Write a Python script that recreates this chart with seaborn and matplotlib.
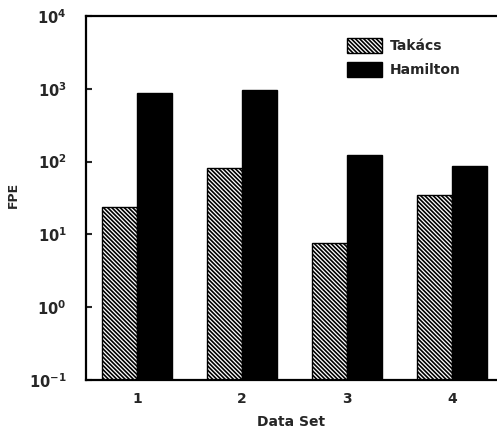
import matplotlib
matplotlib.use("Agg")
import matplotlib.pyplot as plt
import seaborn as sns
import pandas as pd
from matplotlib.patches import Patch

data_sets = ["1", "2", "3", "4"]
takacs = [24, 82, 7.7, 35]
hamilton = [875, 963, 123, 87]
methods = ["Takács", "Hamilton"]
ytick_values = [1e-1, 1e0, 1e1, 1e2, 1e3, 1e4]
ytick_labels = [r"$\mathbf{10^{-1}}$", r"$\mathbf{10^{0}}$", r"$\mathbf{10^{1}}$",
                r"$\mathbf{10^{2}}$", r"$\mathbf{10^{3}}$", r"$\mathbf{10^{4}}$"]

df = pd.DataFrame({
    "Data Set": data_sets * 2,
    "FPE": takacs + hamilton,
    "Method": [methods[0]] * len(data_sets) + [methods[1]] * len(data_sets),
})

sns.set_style("white")
plt.rcParams["font.family"] = ["DejaVu Sans"]
plt.rcParams["font.weight"] = "bold"
plt.rcParams["mathtext.fontset"] = "dejavusans"
plt.rcParams["hatch.linewidth"] = 1.2
plt.rcParams["hatch.color"] = "black"

HATCH = "\\" * 8

fig = plt.figure(figsize=(4.97, 4.32), dpi=100)
ax = fig.add_axes([0.173, 0.1204, 0.827, 0.8426])

sns.barplot(data=df, x="Data Set", y="FPE", hue="Method", order=data_sets,
            hue_order=methods, palette={"Takács": "white", "Hamilton": "black"},
            width=0.667, edgecolor="black", linewidth=1.0, saturation=1,
            legend=False, ax=ax)

for bar in ax.containers[0]:
    bar.set_hatch(HATCH)

ax.set_yscale("log")
ax.set_ylim(1e-1, 1e4)
ax.set_xlim(-0.486, 3.43)
ax.set_yticks(ytick_values)
ax.set_yticklabels(ytick_labels, fontsize=10.5)
ax.minorticks_off()
ax.tick_params(axis="y", direction="in", length=4, width=1.5, pad=14, left=True)
ax.tick_params(axis="x", length=0, pad=9, labelsize=10)
for lbl in ax.get_xticklabels():
    lbl.set_fontweight("bold")

for side in ["left", "top", "bottom"]:
    ax.spines[side].set_linewidth(1.6)
    ax.spines[side].set_color("black")
ax.spines["right"].set_visible(False)

ax.set_xlabel("Data Set", fontsize=10, fontweight="bold", labelpad=6)
ax.set_ylabel("FPE", fontsize=9, fontweight="bold")
ax.yaxis.set_label_coords(-0.16, 0.508)

handles = [
    Patch(facecolor="white", edgecolor="black", hatch=HATCH, label=methods[0]),
    Patch(facecolor="black", edgecolor="black", label=methods[1]),
]
fig.legend(handles=handles, loc="upper left", bbox_to_anchor=(0.684, 0.928),
           bbox_transform=fig.transFigure, frameon=False, borderpad=0,
           handlelength=2.5, handleheight=1.25, handletextpad=0.6,
           labelspacing=0.65, prop={"weight": "bold", "size": 10})

fig.savefig("out.png", dpi=100)
